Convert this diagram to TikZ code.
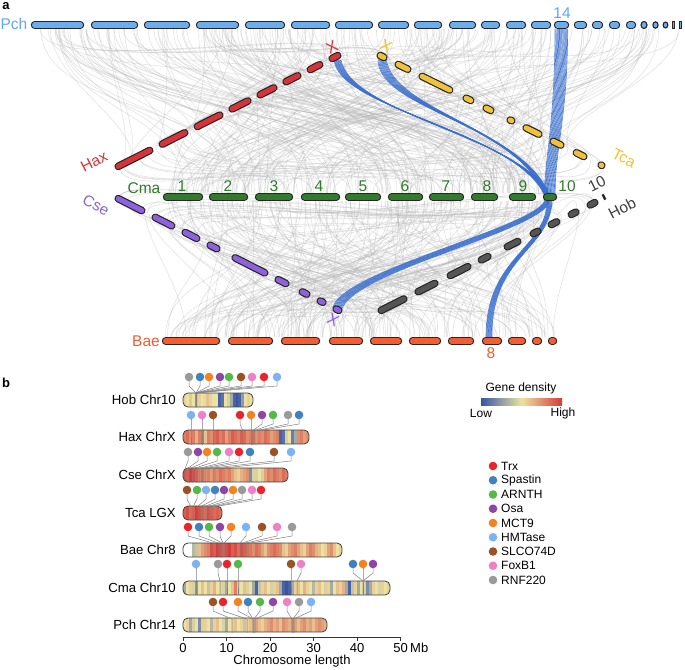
\documentclass[tikz,border=0pt]{standalone}
\usepackage{fontspec}
\setmainfont{Liberation Sans}
\usetikzlibrary{calc}
\definecolor{pchC}{HTML}{6CAEEC}
\definecolor{pchL}{HTML}{5FA8F5}
\definecolor{cmaC}{HTML}{337A2E}
\definecolor{haxC}{HTML}{D7333A}
\definecolor{tcaC}{HTML}{F0C23C}
\definecolor{tcaL}{HTML}{F2C232}
\definecolor{cseC}{HTML}{8E62DD}
\definecolor{hobC}{HTML}{555555}
\definecolor{hobL}{HTML}{404040}
\definecolor{baeC}{HTML}{F25E32}
\definecolor{blueC}{HTML}{3A6FCF}
\definecolor{hb}{RGB}{55,85,168}
\definecolor{hy}{RGB}{236,226,162}
\definecolor{hr}{RGB}{212,60,58}
\definecolor{dRed}{HTML}{E8252A}
\definecolor{dSteel}{HTML}{4081BE}
\definecolor{dGreen}{HTML}{55B947}
\definecolor{dPurple}{HTML}{8E45A6}
\definecolor{dOrange}{HTML}{F5821F}
\definecolor{dLblue}{HTML}{7DB3F2}
\definecolor{dBrown}{HTML}{9B5227}
\definecolor{dPink}{HTML}{EF7FC6}
\definecolor{dGray}{HTML}{9A9A9A}
\tikzset{
 chrout/.style={line width=7.6pt, line cap=round, draw=black!85},
 chrin/.style={line width=5.2pt, line cap=round},
 gline/.style={draw=black!28, line width=0.6pt, opacity=0.38},
 bline/.style={draw=blueC, line width=0.6pt, opacity=0.9},
 lab/.style={font=\fontsize{15.5}{18}\selectfont, inner sep=0pt},
 xlab/.style={font=\fontsize{16}{18}\selectfont, inner sep=0pt},
 blab/.style={font=\fontsize{13.2}{15}\selectfont, inner sep=0pt, anchor=east},
 leg/.style={font=\fontsize{12}{14}\selectfont, inner sep=0pt, anchor=west},
 axl/.style={font=\fontsize{13}{15}\selectfont, inner sep=0pt},
 stem/.style={draw=black!50, line width=0.5pt},
 barout/.style={draw=black!75, line width=0.8pt},
 plab/.style={font=\fontsize{13}{15}\selectfont\bfseries, inner sep=0pt}
}
% horizontal chromosome segments
\newcommand\hseg[3]{%
 \foreach \a/\b in {#3}{%
  \draw[chrout] ({\a+3.6},#2) -- ({\b-3.6},#2);
  \draw[chrin,draw=#1] ({\a+3.6},#2) -- ({\b-3.6},#2);
 }}
% diagonal chromosome segments
\newcommand\dseg[4]{%
 \foreach \fa/\fb in {#4}{%
  \coordinate (s1) at ($(#2)!\fa!(#3)$);
  \coordinate (s2) at ($(#2)!\fb!(#3)$);
  \draw[chrout] ($(s1)!3.6pt!(s2)$) -- ($(s2)!3.6pt!(s1)$);
  \draw[chrin,draw=#1] ($(s1)!3.6pt!(s2)$) -- ($(s2)!3.6pt!(s1)$);
 }}
% heat bar: x0, ycenter, length, values
\newcommand\heatbar[4]{%
 \foreach \v [count=\n] in {#4}{\xdef\hn{\n}}
 \begin{scope}
 \clip[rounded corners=5pt] (#1,{#2-7}) rectangle ({#1+#3},{#2+7});
 \foreach \v [count=\k from 0] in {#4}{%
   \pgfmathsetmacro\hw{#3/\hn}
   \ifdim\v pt>1.5pt
     \colorlet{hc}{white}
   \else
     \ifdim\v pt<0.5pt
       \pgfmathtruncatemacro\pp{\v*200}
       \colorlet{hc}{hy!\pp!hb}
     \else
       \pgfmathtruncatemacro\pp{(\v-0.5)*200}
       \colorlet{hc}{hr!\pp!hy}
     \fi
   \fi
   \fill[hc] ({#1+\k*\hw},{#2-7}) rectangle ({#1+(\k+1)*\hw+0.4},{#2+7});
 }
 \end{scope}
 \draw[barout,rounded corners=5pt] (#1,{#2-7}) rectangle ({#1+#3},{#2+7});
}
% gene markers row: ydot, bartop, list xd/xt/color
\newcommand\generow[3]{%
 \foreach \xd/\xt/\c in {#3}{%
  \draw[stem] (\xd,#1) -- (\xd,{#1+9}) -- (\xt,#2) -- (\xt,{#2+14});
 }
 \foreach \xd/\xt/\c in {#3}{%
  \fill[\c] (\xd,#1) circle (4.3);
 }}
\begin{document}
\begin{tikzpicture}[x=1pt,y=-1pt]
\useasboundingbox (0,0) rectangle (685,669);
\fill[white] (0,0) rectangle (685,669);
% line end points
\coordinate (HaxA) at (115,168); \coordinate (HaxB) at (341,54);
\coordinate (TcaA) at (377,54);  \coordinate (TcaB) at (605,167);
\coordinate (CseA) at (115,197); \coordinate (CseB) at (342,312);
\coordinate (HobA) at (378,312); \coordinate (HobB) at (598,201);
% ---------- grey synteny curves ----------
\pgfmathsetseed{12}
\foreach \i in {1,...,170}{%
  \pgfmathsetmacro\xa{34+rnd*636}
  \pgfmathsetmacro\xb{166+rnd*388}
  \draw[gline] (\xa,29) .. controls (\xa,115) and (\xb,105) .. (\xb,193);
}
\foreach \i in {1,...,130}{%
  \pgfmathsetmacro\xa{166+rnd*388}
  \pgfmathsetmacro\xb{164+rnd*392}
  \draw[gline] (\xa,201) .. controls (\xa,275) and (\xb,265) .. (\xb,337);
}
\foreach \i in {1,...,45}{%
  \pgfmathsetmacro\xa{34+rnd*500}
  \pgfmathsetmacro\f{rnd}
  \coordinate (q) at ($(HaxA)!\f!(HaxB)$);
  \draw[gline] (\xa,29) .. controls (\xa,80) and ($(q)+(10,-35)$) .. (q);
}
\foreach \i in {1,...,45}{%
  \pgfmathsetmacro\xa{200+rnd*480}
  \pgfmathsetmacro\f{rnd}
  \coordinate (q) at ($(TcaA)!\f!(TcaB)$);
  \draw[gline] (\xa,29) .. controls (\xa,80) and ($(q)+(-10,-35)$) .. (q);
}
\foreach \i in {1,...,40}{%
  \pgfmathsetmacro\xb{166+rnd*388}
  \pgfmathsetmacro\f{rnd}
  \coordinate (q) at ($(HaxA)!\f!(HaxB)$);
  \draw[gline] (q) .. controls ($(q)+(0,40)$) and (\xb,150) .. (\xb,193);
}
\foreach \i in {1,...,40}{%
  \pgfmathsetmacro\xb{166+rnd*388}
  \pgfmathsetmacro\f{rnd}
  \coordinate (q) at ($(TcaA)!\f!(TcaB)$);
  \draw[gline] (q) .. controls ($(q)+(0,40)$) and (\xb,150) .. (\xb,193);
}
\foreach \i in {1,...,40}{%
  \pgfmathsetmacro\xa{166+rnd*388}
  \pgfmathsetmacro\f{rnd}
  \coordinate (q) at ($(CseA)!\f!(CseB)$);
  \draw[gline] (\xa,201) .. controls (\xa,240) and ($(q)+(0,-35)$) .. (q);
}
\foreach \i in {1,...,40}{%
  \pgfmathsetmacro\xa{166+rnd*388}
  \pgfmathsetmacro\f{rnd}
  \coordinate (q) at ($(HobA)!\f!(HobB)$);
  \draw[gline] (\xa,201) .. controls (\xa,240) and ($(q)+(0,-35)$) .. (q);
}
\foreach \i in {1,...,40}{%
  \pgfmathsetmacro\xb{164+rnd*392}
  \pgfmathsetmacro\f{rnd}
  \coordinate (q) at ($(CseA)!\f!(CseB)$);
  \draw[gline] (q) .. controls ($(q)+(0,30)$) and (\xb,290) .. (\xb,337);
}
\foreach \i in {1,...,40}{%
  \pgfmathsetmacro\xb{164+rnd*392}
  \pgfmathsetmacro\f{rnd}
  \coordinate (q) at ($(HobA)!\f!(HobB)$);
  \draw[gline] (q) .. controls ($(q)+(0,30)$) and (\xb,290) .. (\xb,337);
}
% ---------- blue bundles ----------
\foreach \d in {0,...,14}{%
  \draw[bline] ({555+\d*0.9},29) .. controls ({555+\d*0.9},120) and ({546+\d*0.6},150) .. ({544+\d*0.8},196);
}
\foreach \d in {0,...,10}{%
  \draw[bline] ({334+\d*0.7},60) .. controls ({340+\d*1.2},{110+\d*0.5}) and ({515+\d},{130+\d*0.8}) .. ({545+\d*0.5},196);
  \draw[bline] ({378+\d*0.8},58) .. controls ({376+\d*1.5},110) and ({515+\d},{120+\d}) .. ({545+\d*0.5},196);
  \draw[bline] ({545+\d*0.5},199) .. controls ({544+\d*0.6},{225+\d*0.5}) and ({343+\d*0.8},270) .. ({333+\d*0.8},{307+\d*0.4});
  \draw[bline] ({547+\d*0.5},199) .. controls ({548+\d*0.4},250) and ({485+\d*0.5},255) .. ({486+\d*0.6},339);
}
% ---------- chromosomes ----------
\hseg{pchC}{25}{31/84,91/138,144/190,196/239,245/285,291/330,335/373,378/409,414/442,449/476,481/500,506/526,531/551,554/569,574/587,592/603,609/620,626/636}
\filldraw[fill=pchC,draw=black!85,line width=1.1pt] (644,25) ellipse (3 and 3.5);
\filldraw[fill=pchC,draw=black!85,line width=1.1pt] (655.5,25) ellipse (2.6 and 3.2);
\filldraw[fill=pchC,draw=black!85,line width=1.1pt] (665.5,25) ellipse (2.4 and 3);
\filldraw[fill=pchC,draw=black!85,line width=0.8pt] (672,21.5) rectangle (674,28.5);
\filldraw[fill=pchC,draw=black!85,line width=0.8pt] (679,21.5) rectangle (681,28.5);
\hseg{cmaC}{197}{163/203,209/248,255/293,301/340,345/381,388/423,429/464,471/498,509/536,543/557}
\hseg{baeC}{341}{162/220,228/273,281/320,329/363,370/402,409/441,448/474,482/502,508/526,532/542,548/557}
\dseg{haxC}{HaxA}{HaxB}{0/0.168,0.195/0.323,0.35/0.478,0.504/0.602,0.628/0.717,0.743/0.823,0.85/0.92,0.947/1}
\dseg{tcaC}{TcaA}{TcaB}{0/0.044,0.079/0.149,0.184/0.333,0.377/0.425,0.465/0.513,0.570/0.605,0.640/0.724,0.759/0.820,0.860/0.921,0.969/1}
\dseg{cseC}{CseA}{CseB}{0/0.132,0.163/0.264,0.295/0.374,0.405/0.463,0.515/0.674,0.705/0.767,0.811/0.859,0.890/0.930,0.960/1}
\dseg{hobC}{HobA}{HobB}{0/0.132,0.168/0.273,0.314/0.423,0.455/0.514,0.573/0.65,0.691/0.741,0.773/0.827,0.864/0.914,0.95/1}
\fill[black!85,rotate around={27:(604,197)}] (602.8,194) rectangle (605.2,200);
% ---------- panel a labels ----------
\node[plab] (pa) at (6,6) {a};
\node[lab,text=pchL] (lPch) at (14,24) {Pch};
\node[lab,text=pchL] (l14) at (562,13) {14};
\node[lab,text=haxC,rotate=27] (lHax) at (94,162) {Hax};
\node[xlab,text=haxC,rotate=27] (lHaxX) at (332,47) {X};
\node[lab,text=tcaL,rotate=-27] (lTca) at (624,158) {Tca};
\node[xlab,text=tcaL,rotate=-27] (lTcaX) at (386,46) {X};
\node[lab,text=cmaC] (lCma) at (144,188) {Cma};
\foreach \x [count=\c] in {182,228,274,319,363,405,446,487,523,567}{%
  \node[lab,text=cmaC] (cma\c) at (\x,186) {\c};
}
\node[lab,text=cseC,rotate=-27] (lCse) at (96,205) {Cse};
\node[xlab,text=cseC,rotate=-27] (lCseX) at (333,320) {X};
\node[lab,text=hobL,rotate=27] (lHob) at (622,208) {Hob};
\node[lab,text=hobL,rotate=27] (lHob10) at (597,184) {10};
\node[lab,text=baeC] (lBae) at (146,341) {Bae};
\node[lab,text=baeC] (l8) at (491,353) {8};
% ---------- panel b ----------
\node[plab] (pb) at (6,383) {b};
\heatbar{183}{400}{70}{0.55,0.5,0.58,0.5,0.6,0.55,0.5,0.52,0.6,0.55,0.5,0.5,0.05,0.1,0.5,0.45,0.3,0.05,0.0,0.05,0.25,0.5,0.55,0.5}
\heatbar{183}{437}{126}{0.8,0.85,0.75,0.8,0.65,0.8,0.85,0.6,0.8,0.75,0.85,0.9,0.8,0.85,0.7,0.8,0.9,0.85,0.8,0.9,0.85,0.75,0.8,0.85,0.7,0.8,0.75,0.85,0.8,0.7,0.75,0.8,0.05,0.1,0.45,0.5,0.15,0.3,0.75,0.8,0.7,0.75}
\heatbar{183}{475}{105}{0.95,0.9,1.0,0.95,0.9,0.8,0.85,0.75,0.8,0.7,0.8,0.75,0.85,0.8,0.75,0.8,0.7,0.6,0.55,0.65,0.7,0.75,0.2,0.45,0.45,0.5,0.45,0.7,0.8,0.75,0.85,0.8,0.75,0.85,0.8}
\heatbar{183}{513}{39}{0.9,0.95,0.85,0.9,1.0,0.95,0.9,0.85,0.95,0.9,0.85,0.9,0.85}
\heatbar{183}{550}{159}{9,9,9,0.35,0.4,0.6,0.7,0.75,0.8,0.95,0.9,1.0,0.95,0.9,0.95,1.0,0.9,0.95,0.85,0.95,0.9,0.85,0.8,0.75,0.85,0.8,0.7,0.6,0.75,0.8,0.85,0.8,0.75,0.6,0.55,0.7,0.75,0.8,0.7,0.6,0.55,0.7,0.8,0.75,0.65,0.6,0.5,0.55,0.7,0.75,0.6,0.5,0.55}
\heatbar{183}{588}{207}{0.3,0.5,0.55,0.45,0.25,0.5,0.6,0.5,0.4,0.55,0.65,0.5,0.55,0.45,0.3,0.5,0.6,0.8,0.55,0.5,0.6,0.45,0.5,0.3,0.05,0.4,0.55,0.6,0.5,0.45,0.55,0.6,0.3,0.05,0.0,0.05,0.3,0.55,0.6,0.5,0.65,0.55,0.5,0.35,0.55,0.6,0.5,0.45,0.55,0.3,0.5,0.6,0.55,0.65,0.3,0.05,0.4,0.55,0.3,0.5,0.45,0.2,0.3,0.55,0.5,0.45,0.55,0.5,0.55}
\heatbar{183}{625}{144}{0.5,0.55,0.3,0.45,0.5,0.2,0.45,0.55,0.5,0.35,0.55,0.6,0.5,0.45,0.3,0.5,0.55,0.6,0.5,0.55,0.4,0.55,0.6,0.65,0.7,0.6,0.55,0.65,0.7,0.75,0.65,0.7,0.6,0.75,0.7,0.65,0.75,0.7,0.6,0.7,0.75,0.65,0.7,0.6,0.7,0.75,0.7,0.65}
\generow{377}{393}{189/196/dGray,200/196/dSteel,209/196/dOrange,220/196/dPurple,229/196/dGreen,241/196/dBrown,252/196/dPink,264/196/dRed,277/196/dLblue}
\generow{415}{431}{191/191/dLblue,202/202/dPink,213/213/dBrown,240/243/dRed,251/251/dOrange,262/252/dPurple,273/253/dGreen,288/255/dGray,299/257/dSteel}
\generow{452}{469}{188/185/dGray,198/187/dPurple,207/189/dOrange,217/192/dGreen,229/196/dPink,239/199/dRed,250/202/dSteel,274/205/dBrown,291/213/dLblue}
\generow{490}{507}{187/191/dBrown,197/193/dGreen,206/197/dLblue,215/200/dSteel,224/203/dPurple,233/206/dOrange,242/209/dGray,252/211/dPink,261/213/dRed}
\generow{527}{543}{188/213/dRed,199/218/dSteel,209/222/dGreen,220/223/dPurple,231/224/dOrange,246/240/dLblue,262/243/dBrown,277/246/dPink,292/251/dGray}
\generow{564}{581}{196/196/dLblue,218/220/dGray,227/227/dRed,238/238/dGreen,291/291/dBrown,301/297/dPink,353/363/dSteel,363/363/dOrange,373/363/dPurple}
\generow{602}{619}{213/232/dBrown,223/247/dRed,238/253/dOrange,248/253/dSteel,260/254/dGreen,273/255/dPurple,287/292/dPink,299/293/dGray,311/294/dLblue}
\node[blab] (bHob) at (176,400) {Hob Chr10};
\node[blab] (bHax) at (176,437) {Hax ChrX};
\node[blab] (bCse) at (176,475) {Cse ChrX};
\node[blab] (bTca) at (176,513) {Tca LGX};
\node[blab] (bBae) at (176,550) {Bae Chr8};
\node[blab] (bCma) at (176,588) {Cma Chr10};
\node[blab] (bPch) at (176,625) {Pch Chr14};
% axis
\draw[black!80, line width=0.8pt] (183,637) -- (401,637);
\foreach \t in {0,10,...,50}{%
  \draw[black!80, line width=0.8pt] ({183+\t*4.354},637) -- ({183+\t*4.354},641);
  \node[axl] (tk\t) at ({183+\t*4.354},648) {\t};
}
\node[axl,anchor=west] (mb) at (410,648) {Mb};
\node[axl] (axt) at (292,661) {Chromosome length};
% legend
\node[leg,anchor=center] (gd) at (521,388) {Gene density};
\shade[left color=hb, right color=hr, middle color=hy] (481,398) rectangle (562,405);
\node[leg,anchor=center] (low) at (481,413) {Low};
\node[leg,anchor=center] (high) at (563,413) {High};
\foreach \c/\t [count=\k from 0] in {dRed/Trx,dSteel/Spastin,dGreen/ARNTH,dPurple/Osa,dOrange/MCT9,dLblue/HMTase,dBrown/SLCO74D,dPink/FoxB1,dGray/RNF220}{%
  \fill[\c] (493,{466+\k*14.25}) circle (4.3);
  \node[leg] (lg\k) at (501,{466+\k*14.25}) {\t};
}
\end{tikzpicture}
\end{document}
